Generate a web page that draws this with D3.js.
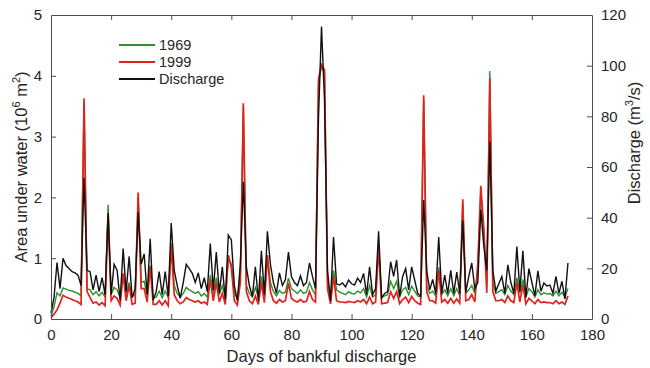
<!DOCTYPE html>
<html>
<head>
<meta charset="utf-8">
<script src="https://cdn.jsdelivr.net/npm/d3@7"></script>
<style>
  body { margin: 0; background: #fff; }
  svg text { font-family: "Liberation Sans", Arial, sans-serif; fill: #262626; }
</style>
</head>
<body>
<script>
// discharge (m3/s), one value per day
const discharge = [
  2.4, 8.4, 22.3, 12, 24, 21.1, 19.9, 18.7, 18.2, 17.3,
  13.2, 55.7, 19.2, 18.7, 11.5, 17.3, 10.8, 16.3, 9.6, 41.8,
  9.6, 21.6, 19.2, 7.2, 27.8, 10.8, 24.7, 8.4, 12, 42.2,
  21.6, 25.7, 9.6, 31.7, 7.4, 10.8, 18.7, 9.6, 18.7, 9.1,
  37.9, 19.2, 13.2, 8.2, 14.4, 21.6, 19.9, 18, 14.4, 18.2,
  12, 16.3, 10.8, 29.8, 11.5, 26.4, 10.3, 20.6, 7.7, 33.1,
  31.2, 13.2, 7.2, 21.6, 54.2, 20.6, 13.2, 8.9, 20.6, 7.2,
  26.9, 9.6, 34.6, 21.6, 14.4, 10.1, 18.2, 13.2, 15.6, 26.4,
  16.8, 14.4, 13.2, 17, 13.2, 14.4, 22.1, 16.8, 12, 79.2,
  115.4, 86.4, 19.2, 7.2, 32.4, 13.9, 13.4, 14.2, 12.7, 15.4,
  13.9, 13.4, 16.1, 14.4, 18, 9.6, 20.6, 9.6, 12, 34.6,
  8.2, 10.1, 10.8, 22.6, 16.8, 23.3, 8.9, 16.8, 19.9, 11.5,
  20.6, 15.4, 10.1, 9.1, 47, 19.2, 11.5, 15.6, 10.1, 32.4,
  10.1, 17.3, 10.1, 19.2, 10.1, 18.5, 10.1, 38.9, 10.6, 16.8,
  22.1, 12, 14.4, 43.2, 28.8, 19.2, 70.1, 19.2, 11, 13.9,
  16.8, 10.1, 21.4, 14.4, 10.1, 28.6, 11, 26.9, 8.6, 19.9,
  14.4, 9.1, 19, 11, 14.2, 13, 13.4, 10.1, 16.8, 10.1,
  14.9, 7.9, 22.1
];

// area under water (10^6 m2), 1969
const area1969 = [
  0.05, 0.2, 0.43, 0.38, 0.51, 0.49, 0.47, 0.46, 0.44, 0.42,
  0.38, 3.55, 0.5, 0.48, 0.4, 0.45, 0.38, 0.44, 0.36, 1.88,
  0.4, 0.52, 0.48, 0.35, 0.72, 0.4, 0.6, 0.36, 0.4, 2.0,
  0.6, 0.62, 0.4, 0.88, 0.35, 0.36, 0.46, 0.35, 0.46, 0.35,
  1.25, 0.55, 0.42, 0.36, 0.42, 0.52, 0.48, 0.45, 0.42, 0.45,
  0.38, 0.42, 0.36, 0.72, 0.42, 0.68, 0.4, 0.55, 0.35, 1.0,
  0.9, 0.42, 0.34, 0.7, 3.5, 0.55, 0.42, 0.36, 0.52, 0.35,
  0.7, 0.38, 1.05, 0.6, 0.45, 0.38, 0.47, 0.42, 0.44, 0.67,
  0.5, 0.46, 0.42, 0.48, 0.42, 0.44, 0.6, 0.48, 0.4, 3.9,
  4.15, 4.05, 0.6, 0.38, 0.8, 0.48, 0.44, 0.42, 0.4, 0.45,
  0.42, 0.41, 0.46, 0.43, 0.5, 0.36, 0.55, 0.36, 0.4, 1.2,
  0.36, 0.38, 0.4, 0.62, 0.5, 0.62, 0.36, 0.48, 0.52, 0.4,
  0.54, 0.46, 0.38, 0.36, 3.6, 0.55, 0.42, 0.46, 0.38, 0.85,
  0.4, 0.48, 0.38, 0.5, 0.38, 0.5, 0.38, 1.9, 0.42, 0.48,
  0.55, 0.42, 0.8, 2.1, 1.4, 0.55, 4.08, 0.6, 0.42, 0.45,
  0.48, 0.4, 0.55, 0.46, 0.4, 0.68, 0.42, 0.65, 0.36, 0.5,
  0.45, 0.36, 0.48, 0.4, 0.43, 0.41, 0.42, 0.38, 0.46, 0.38,
  0.44, 0.36, 0.5
];

// area under water (10^6 m2), 1999
const area1999 = [
  0.02, 0.08, 0.15, 0.26, 0.39, 0.36, 0.34, 0.32, 0.3, 0.28,
  0.24, 3.63, 0.45, 0.35, 0.26, 0.28, 0.23, 0.27, 0.22, 1.73,
  0.3, 0.38, 0.34, 0.23, 0.75, 0.3, 0.55, 0.24, 0.26, 2.08,
  0.5, 0.5, 0.28, 0.86, 0.24, 0.24, 0.3, 0.23, 0.3, 0.22,
  1.2, 0.4, 0.3, 0.25, 0.28, 0.35, 0.32, 0.3, 0.28, 0.3,
  0.26, 0.28, 0.24, 0.65, 0.3, 0.6, 0.28, 0.42, 0.24, 1.05,
  0.85, 0.3, 0.23, 0.6, 3.55, 0.45, 0.3, 0.25, 0.38, 0.24,
  0.6, 0.27, 1.05, 0.45, 0.3, 0.26, 0.32, 0.28, 0.3, 0.59,
  0.34, 0.3, 0.28, 0.32, 0.28, 0.29, 0.45, 0.32, 0.28, 3.95,
  4.18, 4.1, 0.5, 0.25, 0.7, 0.3, 0.28, 0.28, 0.27, 0.29,
  0.28, 0.27, 0.3, 0.28, 0.32, 0.25, 0.36, 0.25, 0.28, 1.19,
  0.25, 0.26, 0.27, 0.45, 0.34, 0.45, 0.25, 0.32, 0.36, 0.27,
  0.37, 0.3, 0.26, 0.24, 3.68, 0.45, 0.3, 0.3, 0.26, 0.8,
  0.28, 0.32, 0.26, 0.34, 0.26, 0.33, 0.26, 1.97, 0.3, 0.32,
  0.4, 0.28, 0.9, 2.19, 1.5, 0.43, 3.96, 0.45, 0.3, 0.3,
  0.32, 0.27, 0.38, 0.3, 0.27, 0.6, 0.28, 0.56, 0.25, 0.34,
  0.3, 0.25, 0.32, 0.27, 0.28, 0.27, 0.27, 0.25, 0.3, 0.25,
  0.28, 0.24, 0.38
];

const days = d3.range(discharge.length);
const xTicks = [0, 20, 40, 60, 80, 100, 120, 140, 160, 180];
const leftTicks = [0, 1, 2, 3, 4, 5];
const rightTicks = [0, 20, 40, 60, 80, 100, 120];
const legendItems = [
  { name: "1969", color: "#2f8f2f" },
  { name: "1999", color: "#e3211c" },
  { name: "Discharge", color: "#111111" }
];

const width = 650;
const height = 368;
const margin = { top: 15, right: 58, bottom: 49, left: 51 };

const svg = d3.select("body").append("svg")
  .attr("width", width)
  .attr("height", height);

const x = d3.scaleLinear().domain([0, 180]).range([margin.left, width - margin.right]);
const yL = d3.scaleLinear().domain([0, 5]).range([height - margin.bottom, margin.top]);
const yR = d3.scaleLinear().domain([0, 120]).range([height - margin.bottom, margin.top]);

const axisColor = "#4d4d4d";

// lines
const lineL = d3.line().x((d, i) => x(days[i])).y(d => yL(d));
const lineR = d3.line().x((d, i) => x(days[i])).y(d => yR(d));

svg.append("path").attr("d", lineL(area1969))
  .attr("fill", "none").attr("stroke", legendItems[0].color).attr("stroke-width", 1.4);
svg.append("path").attr("d", lineL(area1999))
  .attr("fill", "none").attr("stroke", legendItems[1].color).attr("stroke-width", 1.7);
svg.append("path").attr("d", lineR(discharge))
  .attr("fill", "none").attr("stroke", legendItems[2].color).attr("stroke-width", 1.4);

// axes
const tickLen = 5;
const gBottom = svg.append("g").attr("transform", `translate(0,${yL(0)})`)
  .call(d3.axisBottom(x).tickValues(xTicks).tickSizeInner(-tickLen).tickSizeOuter(0).tickPadding(10));
const gTop = svg.append("g").attr("transform", `translate(0,${yL(5)})`)
  .call(d3.axisTop(x).tickValues(xTicks).tickSizeInner(-tickLen).tickSizeOuter(0).tickFormat(""));
const gLeft = svg.append("g").attr("transform", `translate(${x(0)},0)`)
  .call(d3.axisLeft(yL).tickValues(leftTicks).tickFormat(d3.format("d"))
    .tickSizeInner(-tickLen).tickSizeOuter(0).tickPadding(9));
const gRight = svg.append("g").attr("transform", `translate(${x(180)},0)`)
  .call(d3.axisRight(yR).tickValues(rightTicks).tickSizeInner(-tickLen).tickSizeOuter(0).tickPadding(9));

[gBottom, gTop, gLeft, gRight].forEach(g => {
  g.select(".domain").attr("stroke", axisColor).attr("stroke-width", 1);
  g.selectAll(".tick line").attr("stroke", axisColor);
  g.selectAll(".tick text").attr("font-size", 15).attr("fill", "#262626")
    .attr("font-family", "Liberation Sans, Arial, sans-serif");
});
// corner ticks coincide with the frame
gTop.selectAll(".tick").filter(d => d === 0 || d === 180).remove();
gBottom.selectAll(".tick line").filter(d => d === 0 || d === 180).remove();
gLeft.selectAll(".tick line").filter(d => d === 0 || d === 5).remove();
gRight.selectAll(".tick line").filter(d => d === 0 || d === 120).remove();

// axis titles
svg.append("text")
  .attr("x", (x(0) + x(180)) / 2).attr("y", 362)
  .attr("text-anchor", "middle").attr("font-size", 16.5)
  .text("Days of bankful discharge");

const ylab = svg.append("text")
  .attr("transform", `translate(27,${(yL(0) + yL(5)) / 2}) rotate(-90)`)
  .attr("text-anchor", "middle").attr("font-size", 16.5);
ylab.append("tspan").text("Area under water (10");
ylab.append("tspan").attr("dy", -7).attr("font-size", 11).text("6");
ylab.append("tspan").attr("dy", 7).text(" m");
ylab.append("tspan").attr("dy", -7).attr("font-size", 11).text("2");
ylab.append("tspan").attr("dy", 7).text(")");

const rlab = svg.append("text")
  .attr("transform", `translate(640,143) rotate(-90)`)
  .attr("text-anchor", "middle").attr("font-size", 16.5);
rlab.append("tspan").text("Discharge (m");
rlab.append("tspan").attr("dy", -7).attr("font-size", 11).text("3");
rlab.append("tspan").attr("dy", 7).text("/s)");

// legend
const legend = svg.append("g").attr("transform", "translate(119,45)");
legendItems.forEach((item, i) => {
  const g = legend.append("g").attr("transform", `translate(0,${i * 17})`);
  g.append("line").attr("x1", 0).attr("x2", 36).attr("y1", 0).attr("y2", 0)
    .attr("stroke", item.color).attr("stroke-width", 1.8);
  g.append("text").attr("x", 40).attr("y", 5).attr("font-size", 14.5).text(item.name);
});
</script>
</body>
</html>
